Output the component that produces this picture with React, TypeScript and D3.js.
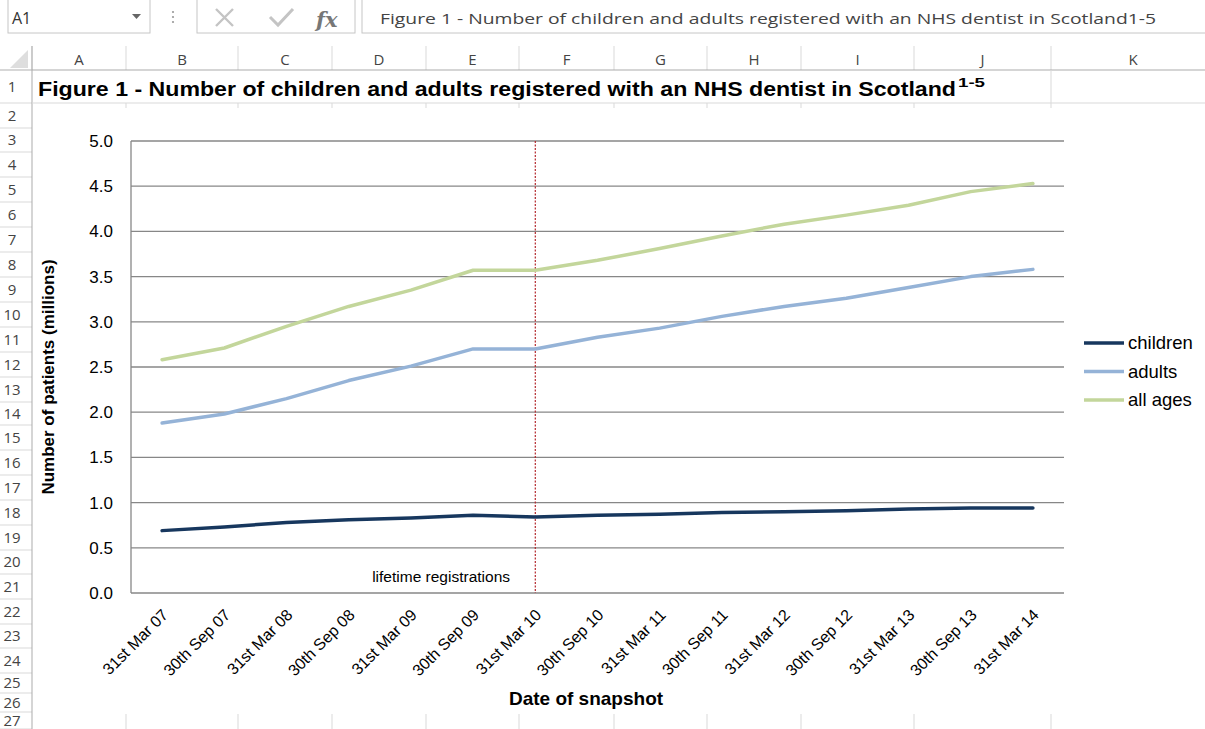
import * as d3 from "d3";

const categories = [
  "31st Mar 07", "30th Sep 07", "31st Mar 08", "30th Sep 08", "31st Mar 09",
  "30th Sep 09", "31st Mar 10", "30th Sep 10", "31st Mar 11", "30th Sep 11",
  "31st Mar 12", "30th Sep 12", "31st Mar 13", "30th Sep 13", "31st Mar 14",
];

const children = [0.69, 0.73, 0.78, 0.81, 0.83, 0.86, 0.84, 0.86, 0.87, 0.89, 0.9, 0.91, 0.93, 0.94, 0.94];
const adults = [1.88, 1.98, 2.15, 2.35, 2.51, 2.7, 2.7, 2.83, 2.93, 3.06, 3.17, 3.26, 3.38, 3.5, 3.58];
const allAges = [2.58, 2.71, 2.95, 3.17, 3.35, 3.57, 3.57, 3.68, 3.81, 3.95, 4.08, 4.18, 4.29, 4.44, 4.53];

const yTicks = [0, 0.5, 1, 1.5, 2, 2.5, 3, 3.5, 4, 4.5, 5];

const seriesNames = ["children", "adults", "all ages"];
const seriesColors = ["#17375e", "#95b3d7", "#c3d69b"];

const columnLetters = ["A", "B", "C", "D", "E", "F", "G", "H", "I", "J", "K"];
const columnEdges = [32, 126, 238, 332, 426, 519, 614, 707, 801, 914, 1051, 1215];
const rowEdges = [70, 103, 128, 152, 177, 202, 227, 252, 277, 302, 327, 352, 377, 402, 425, 450, 475, 500, 525, 550, 574, 599, 624, 648, 673, 693, 712, 729];

const formulaText = "Figure 1 - Number of children and adults registered with an NHS dentist in Scotland1-5";
const titleText = "Figure 1 - Number of children and adults registered with an NHS dentist in Scotland";

const W = 1205;
const H = 729;
const arial = "Arial, 'Liberation Sans', sans-serif";
const sheetFont = "'Open Sans', 'Noto Sans', sans-serif";

export default function App() {
  const x = d3.scaleBand<string>().domain(categories).range([131, 1064]);
  const cx = (c: string) => (x(c) ?? 0) + x.bandwidth() / 2;
  const y = d3.scaleLinear().domain([0, 5]).range([593, 141]);

  const series = [children, adults, allAges];
  const line = d3
    .line<number>()
    .x((_, i) => cx(categories[i]))
    .y((d) => y(d));

  const markerX = cx("31st Mar 10");

  return (
    <svg
      width={W}
      height={H}
      style={{ position: "fixed", left: 0, top: 0, background: "#fff" }}
    >
      {/* formula bar */}
      <rect x={8} y={-2} width={142} height={35} fill="#fff" stroke="#c6c6c6" />
      <path d="M132,14 L141,14 L136.5,19 Z" fill="#666" />
      {[12, 17, 22].map((d) => (
        <circle key={d} cx={173} cy={d} r={1.1} fill="#999" />
      ))}
      <rect x={197} y={-2} width={158} height={35} fill="#fff" stroke="#c6c6c6" />
      <path d="M216,9 L233,26 M233,9 L216,26" stroke="#c4c4c4" strokeWidth={2.4} />
      <path d="M270,17 L278,25 L293,9" stroke="#c4c4c4" strokeWidth={3} fill="none" />
      <text x={316} y={27} fontFamily="'DejaVu Serif', serif" fontStyle="italic" fontWeight="bold" fontSize={21} fill="#777">
        fx
      </text>
      <rect x={362} y={-2} width={860} height={35} fill="#fff" stroke="#c6c6c6" />
      <text x={12} y={24} fontFamily={sheetFont} fontSize={16} fill="#333">A1</text>
      <text x={380} y={24} fontFamily={sheetFont} fontSize={15} fill="#444" textLength={776} lengthAdjust="spacingAndGlyphs">
        {formulaText}
      </text>

      {/* column headers */}
      <path d="M28,50 L28,68 L10,68 Z" fill="#dedede" />
      {columnEdges.map((e) => (
        <line key={e} x1={e} x2={e} y1={46} y2={70} stroke="#d9d9d9" />
      ))}
      <line x1={0} x2={W} y1={70} y2={70} stroke="#ababab" />
      {columnLetters.map((c, i) => (
        <text
          key={c}
          x={(columnEdges[i] + columnEdges[i + 1]) / 2}
          y={65}
          textAnchor="middle"
          fontFamily={sheetFont}
          fontSize={15}
          fill="#444"
        >
          {c}
        </text>
      ))}

      {/* row headers and cell grid */}
      {rowEdges.map((e) => (
        <line key={e} x1={0} x2={32} y1={e} y2={e} stroke="#d9d9d9" />
      ))}
      <line x1={32} x2={32} y1={46} y2={H} stroke="#ababab" />
      {rowEdges.slice(0, -1).map((e, i) => (
        <text
          key={e}
          x={12}
          y={(e + rowEdges[i + 1]) / 2 + 5}
          textAnchor="middle"
          fontFamily={sheetFont}
          fontSize={15}
          fill="#444"
        >
          {i + 1}
        </text>
      ))}
      <line x1={32} x2={W} y1={103} y2={103} stroke="#d9d9d9" />
      <line x1={1051} x2={1051} y1={70} y2={103} stroke="#d9d9d9" />
      {columnEdges.slice(1).map((e) => (
        <line key={e} x1={e} x2={e} y1={103} y2={H} stroke="#d9d9d9" />
      ))}

      {/* chart object */}
      <rect x={33} y={108} width={W} height={606} fill="#fff" />

      {/* title */}
      <text x={38} y={96} fontFamily={arial} fontWeight="bold" fontSize={20} fill="#000" textLength={918} lengthAdjust="spacingAndGlyphs">
        {titleText}
      </text>
      <text x={958} y={87} fontFamily={arial} fontWeight="bold" fontSize={13} fill="#000" textLength={27} lengthAdjust="spacingAndGlyphs">
        1-5
      </text>

      {/* gridlines */}
      {yTicks.map((t) => (
        <line key={t} x1={131} x2={1064} y1={y(t)} y2={y(t)} stroke="#878787" strokeWidth={1.3} />
      ))}
      <line x1={131} x2={131} y1={y(5)} y2={y(0)} stroke="#878787" strokeWidth={1.3} />

      {/* y tick labels */}
      {yTicks.map((t) => (
        <text key={t} x={113} y={y(t) + 6} textAnchor="end" fontFamily={arial} fontSize={17} fill="#000">
          {d3.format(".1f")(t)}
        </text>
      ))}
      <text
        transform="translate(54,377) rotate(-90)"
        textAnchor="middle"
        fontFamily={arial}
        fontWeight="bold"
        fontSize={17}
        fill="#000"
      >
        Number of patients (millions)
      </text>

      {/* x tick labels */}
      {categories.map((c) => (
        <text
          key={c}
          transform={`translate(${cx(c) + 7},616) rotate(-45)`}
          textAnchor="end"
          fontFamily={arial}
          fontSize={16}
          fill="#000"
        >
          {c}
        </text>
      ))}
      <text x={586} y={705} textAnchor="middle" fontFamily={arial} fontWeight="bold" fontSize={19} fill="#000">
        Date of snapshot
      </text>

      {/* lifetime registration marker */}
      <line x1={markerX} x2={markerX} y1={y(5)} y2={y(0)} stroke="#b3262b" strokeWidth={1.2} strokeDasharray="2,1.5" />
      <text x={510} y={582} textAnchor="end" fontFamily={arial} fontSize={15.5} fill="#000">
        lifetime registrations
      </text>

      {/* series */}
      {series.map((s, i) => (
        <path key={seriesNames[i]} d={line(s) ?? ""} fill="none" stroke={seriesColors[i]} strokeWidth={3.5} strokeLinejoin="round" strokeLinecap="round" />
      ))}

      {/* legend */}
      {seriesNames.map((n, i) => (
        <g key={n} transform={`translate(1084,${343 + i * 28.5})`}>
          <line x1={0} x2={40} y1={0} y2={0} stroke={seriesColors[i]} strokeWidth={3.5} />
          <text x={44} y={0} dy="0.35em" fontFamily={arial} fontSize={18.5} fill="#000">
            {n}
          </text>
        </g>
      ))}
    </svg>
  );
}
